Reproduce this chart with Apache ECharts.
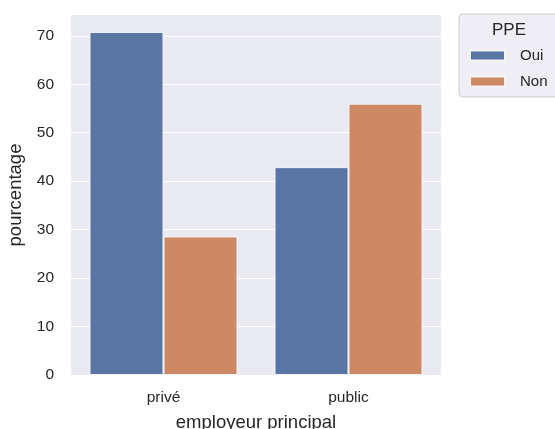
<!DOCTYPE html>
<html>
<head>
<meta charset="utf-8">
<script src="https://cdn.jsdelivr.net/npm/echarts@6/dist/echarts.min.js"></script>
<style>html,body{margin:0;padding:0;background:#fff;}#c{width:555px;height:429px;}</style>
</head>
<body>
<div id="c"></div>
<script>
var categories = ['privé', 'public'];
var seriesNames = ['Oui', 'Non'];
var ouiValues = [70.8, 42.9];
var nonValues = [28.6, 56.0];
var yTicks = [0, 10, 20, 30, 40, 50, 60, 70];

var chart = echarts.init(document.getElementById('c'));
var font = 'Liberation Sans, Arial, sans-serif';
chart.setOption({
  animation: false,
  grid: {left: 71, top: 15, width: 370, height: 360, show: true, backgroundColor: '#eaeaf2', borderWidth: 0,
         containLabel: false, outerBoundsMode: 'none'},
  xAxis: {
    type: 'category', data: categories,
    axisLine: {show: false}, axisTick: {show: false}, splitLine: {show: false},
    axisLabel: {color: '#262626', fontSize: 15.5, fontFamily: font, margin: 15},
    name: 'employeur principal', nameLocation: 'middle', nameGap: 38,
    nameTextStyle: {color: '#262626', fontSize: 18.5, fontFamily: font}
  },
  yAxis: {
    type: 'value', min: 0, max: 74.3, interval: 10,
    axisLine: {show: false}, axisTick: {show: false},
    splitLine: {show: true, showMaxLine: false, lineStyle: {color: '#ffffff', width: 1.2}},
    axisLabel: {color: '#262626', fontSize: 15.5, fontFamily: font, margin: 17, showMaxLabel: false,
      formatter: function (v) { return yTicks.indexOf(v) >= 0 ? String(v) : ''; }},
    name: 'pourcentage', nameLocation: 'middle', nameGap: 43,
    nameTextStyle: {color: '#262626', fontSize: 18.5, fontFamily: font}
  },
  legend: {
    orient: 'vertical', left: 459, top: 14,
    padding: [34, 25, 8, 10], itemGap: 11, itemWidth: 35, itemHeight: 10,
    borderColor: '#cccccc', borderWidth: 1, borderRadius: 4, backgroundColor: '#eeeef4',
    icon: 'rect',
    textStyle: {color: '#262626', fontSize: 15, fontFamily: font, padding: [0, 0, 0, 10]},
    data: seriesNames
  },
  graphic: [{
    type: 'text', x: 509, y: 30, z: 100,
    style: {text: 'PPE', fill: '#262626', fontSize: 17, fontFamily: font, align: 'center', verticalAlign: 'middle'}
  }],
  series: [
    {name: seriesNames[0], type: 'bar', data: ouiValues, barGap: '0%', barCategoryGap: '20%',
     itemStyle: {color: '#5975a4', borderColor: '#f4f4f8', borderWidth: 1}},
    {name: seriesNames[1], type: 'bar', data: nonValues, barGap: '0%', barCategoryGap: '20%',
     itemStyle: {color: '#cc8963', borderColor: '#f4f4f8', borderWidth: 1}}
  ]
});
</script>
</body>
</html>
